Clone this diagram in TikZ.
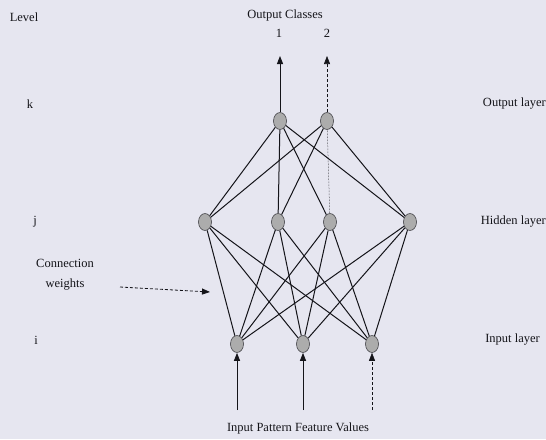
\documentclass[tikz,border=0pt]{standalone}
\usepackage{fontspec}
\setmainfont{Liberation Serif}
\usetikzlibrary{shapes.geometric,arrows.meta}
\definecolor{paper}{RGB}{230,230,240}
\definecolor{ink}{RGB}{20,20,25}
\begin{document}
\begin{tikzpicture}[x=1pt,y=-1pt,
  neuron/.style={ellipse,draw=ink!80,line width=0.6pt,fill=gray!65,minimum width=13pt,minimum height=17pt,inner sep=0pt},
  lbl/.style={font=\fontsize{12.5}{20}\selectfont,text=ink,inner sep=0pt},
  link/.style={draw=ink,line width=1pt},
  arr/.style={draw=ink,line width=1pt,-{Triangle[length=8pt,width=6pt]}}]
\fill[paper] (0,0) rectangle (546,439);
\useasboundingbox (0,0) rectangle (546,439);
% labels
\node[lbl] (level) at (24,17) {Level};
\node[lbl] (oc) at (285,15) {Output Classes};
\node[lbl] (c1) at (279,33) {1};
\node[lbl] (c2) at (327,33) {2};
\node[lbl] (k) at (30,104) {k};
\node[lbl] (j) at (35,222) {j};
\node[lbl] (i) at (36,340) {i};
\node[lbl,anchor=east] (ol) at (546,104) {Output layer};
\node[lbl,anchor=east] (hl) at (546,222) {Hidden layer};
\node[lbl,anchor=east] (il) at (540,340) {Input layer};
\node[lbl,align=center] (cw) at (65,275) {Connection\\weights};
\node[lbl] (ipf) at (298,428) {Input Pattern Feature Values};
% neurons
\node[neuron] (o1) at (280,121) {};
\node[neuron] (o2) at (327,121) {};
\node[neuron] (h1) at (205,222) {};
\node[neuron] (h2) at (278,222) {};
\node[neuron] (h3) at (330,222) {};
\node[neuron] (h4) at (410,222) {};
\node[neuron] (n1) at (237,344) {};
\node[neuron] (n2) at (303,344) {};
\node[neuron] (n3) at (372,344) {};
% output-hidden links
\foreach \h in {h1,h2,h3,h4}{\draw[link] (o1) -- (\h);}
\foreach \h in {h1,h2,h4}{\draw[link] (o2) -- (\h);}
\draw[draw=ink,line width=0.5pt,densely dotted] (o2) -- (h3);
% hidden-input links
\foreach \h in {h1,h2,h3,h4}{\foreach \n in {n1,n2,n3}{\draw[link] (\h) -- (\n);}}
% output arrows
\coordinate (t1) at (280,56);
\coordinate (t2) at (327,56);
\draw[arr] (o1) -- (t1);
\draw[arr,line width=0.6pt,densely dashed] (o2) -- (t2);
% input arrows
\coordinate (b1) at (237,410);
\coordinate (b2) at (303,410);
\coordinate (b3) at (372,410);
\draw[arr] (b1) -- (n1);
\draw[arr] (b2) -- (n2);
\draw[arr,line width=0.6pt,densely dashed] (b3) -- (n3);
% connection weights pointer
\coordinate (cwa) at (120,287);
\coordinate (cwb) at (210,292);
\draw[draw=ink,line width=0.8pt,densely dashed,-{Triangle[length=8pt,width=6pt]}] (cwa) -- (cwb);
\end{tikzpicture}
\end{document}
